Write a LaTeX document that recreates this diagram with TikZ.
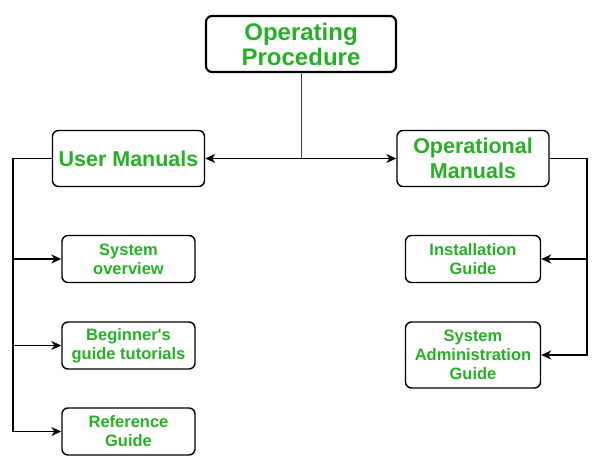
\documentclass[tikz,border=0pt]{standalone}
\usepackage{fontspec}
\setmainfont{Liberation Sans}
\usetikzlibrary{arrows.meta}
\definecolor{procgreen}{RGB}{38,176,38}

\begin{document}
\begin{tikzpicture}[x=1pt,y=-1pt,> = {Stealth[length=10pt,width=9pt,inset=3pt]},
    box/.style={draw=black,rounded corners=6pt,align=center,inner sep=0pt,text=procgreen,font=\bfseries},
    proc/.style={box,line width=2.2pt,minimum width=190pt,minimum height=56pt,font=\bfseries\fontsize{24}{25}\selectfont},
    manual/.style={box,line width=1.4pt,minimum width=152pt,minimum height=56pt,font=\bfseries\fontsize{21.5}{25}\selectfont},
    guide/.style={box,line width=1.4pt,minimum width=133pt,minimum height=47pt,font=\bfseries\fontsize{16.5}{19}\selectfont}]
            \useasboundingbox (0,0) rectangle (598,471);
            \node[proc] (top) at (301,44) {Operating\\Procedure};
            \node[manual] (user) at (128.5,158.5) {User Manuals};
            \node[manual] (oper) at (473,158.5) {Operational\\Manuals};
            \node[guide] (sysov) at (128.5,259) {System\\overview};
            \node[guide] (begin) at (128.5,345.5) {Beginner\textquotesingle s\\guide tutorials};
            \node[guide] (ref) at (128.5,431.5) {Reference\\Guide};
            \node[guide,minimum width=135pt] (inst) at (473,259) {Installation\\Guide};
            \node[guide,minimum width=135pt,minimum height=66pt] (sysadm) at (473,355) {System\\Administration\\Guide};
            \coordinate (mid) at (top.south |- user.east);
            \coordinate (lspine) at (13,158.5);
            \coordinate (rspine) at (587,158.5);
            \draw[line width=0.9pt,color=black!75] (top.south) -- (mid);
            \draw[<->,line width=1.3pt] (user.east) -- (oper.west);
            \draw[->,line width=1.3pt] (user.west) -- (lspine) |- (ref.west);
            \draw[->,line width=1.3pt] (lspine |- sysov) -- (sysov.west);
            \draw[->,line width=1.3pt] (lspine |- begin) -- (begin.west);
            \draw[->,line width=1.3pt] (oper.east) -- (rspine) |- (sysadm.east);
            \draw[->,line width=1.3pt] (rspine |- inst) -- (inst.east);
        \end{tikzpicture}
\end{document}
